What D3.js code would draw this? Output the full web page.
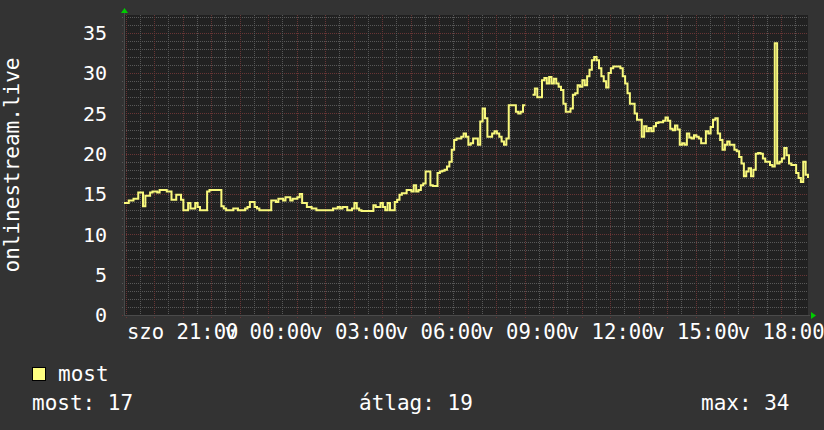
<!DOCTYPE html>
<html>
<head>
<meta charset="utf-8">
<script src="https://cdn.jsdelivr.net/npm/d3@7"></script>
<style>
  body { margin: 0; background: #333333; }
  svg { display: block; }
  text { font-family: "DejaVu Sans Mono", monospace; fill: #ffffff; }
</style>
</head>
<body>
<script>
var margin = {top: 15, right: 16, bottom: 115, left: 124},
    width = 684,
    height = 300;

// 24 hours of 5 minute samples, starting saturday evening
var startTime = new Date(2023, 2, 4, 18, 56, 24);
var endTime = new Date(2023, 2, 5, 18, 56, 24);
var stepMinutes = 5;

// null = missing sample (gap in the line)
var viewers = [
  13.9, 13.9, 14.2, 14.2, 14.4, 14.4, 15.2, 15.2, 13.5, 14.8, 14.8, 15.2,
  15.3, 15.3, 15.2, 15.5, 15.5, 15.5, 15.3, 15.3, 14.3, 14.3, 14.9, 14.9,
  14.3, 13.0, 13.0, 13.9, 13.2, 13.2, 13.9, 13.4, 13.0, 13.0, 13.0, 15.3,
  15.5, 15.5, 15.5, 15.5, 15.5, 13.5, 13.2, 13.0, 13.0, 13.0, 13.2, 13.2,
  13.0, 13.0, 13.0, 13.2, 13.4, 14.0, 14.0, 13.4, 13.2, 13.0, 13.0, 13.0,
  13.0, 13.0, 14.2, 14.2, 14.0, 14.4, 14.4, 14.2, 14.6, 14.6, 14.2, 14.4,
  14.4, 14.6, 15.0, 13.9, 13.9, 13.4, 13.4, 13.2, 13.2, 13.0, 13.0, 13.0,
  13.0, 13.0, 13.0, 13.0, 13.2, 13.2, 13.4, 13.2, 13.4, 13.4, 13.0, 13.0,
  13.2, 13.9, 13.2, 13.0, 12.9, 12.9, 12.9, 12.9, 12.9, 13.6, 13.4, 13.4,
  13.9, 13.4, 13.0, 13.9, 13.0, 13.0, 14.0, 14.3, 14.9, 15.1, 15.1, 15.5,
  15.5, 15.3, 16.1, 15.3, 15.5, 16.1, 16.3, 17.8, 17.8, 16.1, 16.0, 16.0,
  17.6, 17.8, 17.9, 18.0, 18.4, 19.0, 20.5, 21.7, 21.9, 21.9, 22.1, 22.5,
  22.1, 21.1, 21.3, 21.9, 21.9, 21.1, 24.0, 25.6, 24.4, 22.1, 22.1, 22.5,
  22.8, 22.5, 22.1, 21.5, 21.1, 21.9, 26.0, 26.0, 26.0, 25.2, 25.0, 25.2,
  26.0, 26.0, null, null, 27.3, 28.1, 27.0, 27.0, 29.1, 29.4, 28.7, 29.5,
  28.7, 29.3, 28.7, 28.3, 27.9, 26.2, 25.2, 25.2, 25.6, 27.3, 27.5, 28.5,
  28.3, 29.1, 28.5, 29.6, 30.4, 31.6, 32.0, 31.6, 30.6, 29.6, 29.0, 28.2,
  30.0, 30.6, 30.8, 30.8, 30.8, 30.6, 29.6, 28.7, 27.5, 26.2, 26.2, 25.0,
  24.2, 24.2, 22.1, 23.4, 22.8, 23.2, 22.8, 23.4, 23.8, 23.9, 23.9, 24.1,
  24.5, 24.1, 23.1, 22.9, 23.5, 23.0, 21.1, 21.3, 21.1, 22.5, 22.0, 21.9,
  22.3, 22.1, 21.9, 21.3, 21.3, 22.8, 22.5, 23.3, 24.2, 24.4, 22.5, 21.7,
  20.5, 21.1, 21.5, 21.1, 21.1, 20.5, 20.3, 19.6, 18.8, 17.2, 17.8, 18.2,
  17.2, 18.0, 20.0, 20.1, 20.0, 19.4, 19.0, 19.0, 18.6, 18.4, 33.7, 18.8,
  19.0, 19.4, 20.7, 19.8, 18.8, 18.6, 18.6, 17.6, 17.0, 16.5, 19.0, 17.4,
  17.0
];

var yMax = 37.2;
var yTicks = [0, 5, 10, 15, 20, 25, 30, 35];
var axisTitle = "onlinestream.live";
var seriesName = "most";
var statLabels = ["most: 17", "átlag: 19", "max: 34"];

// hungarian short day names, lower case like rrdtool prints them
var huLocale = d3.timeFormatLocale({
  dateTime: "%Y. %B %-e. %X",
  date: "%Y. %m. %d.",
  time: "%H:%M:%S",
  periods: ["de.", "du."],
  days: ["vasárnap", "hétfő", "kedd", "szerda", "csütörtök", "péntek", "szombat"],
  shortDays: ["v", "h", "k", "sze", "cs", "p", "szo"],
  months: ["január", "február", "március", "április", "május", "június", "július", "augusztus", "szeptember", "október", "november", "december"],
  shortMonths: ["jan", "feb", "már", "ápr", "máj", "jún", "júl", "aug", "szept", "okt", "nov", "dec"]
});
var labelFormat = huLocale.format("%a %H:%M");

var data = viewers.map(function(v, i) {
  return {t: d3.timeMinute.offset(startTime, i * stepMinutes), v: v};
});

var svg = d3.select("body")
            .append("svg")
            .attr("width", width + margin.left + margin.right)
            .attr("height", height + margin.top + margin.bottom);

var g = svg.append("g")
           .attr("transform", "translate(" + margin.left + "," + margin.top + ")");

var xScale = d3.scaleTime()
               .domain([startTime, endTime])
               .range([0, width]);

var yScale = d3.scaleLinear()
               .domain([0, yMax])
               .range([height, 0]);

var crisp = function(v) { return Math.round(v) + 0.5; };

var minorColor = "#585858",
    majorColor = "#683535";

// canvas
g.append("rect")
 .attr("width", width)
 .attr("height", height)
 .attr("fill", "#212121");

// horizontal grid: minor every unit, major every 5
var hMinor = d3.range(0, Math.floor(yMax) + 1).filter(function(v) { return v % 5 != 0; });

g.selectAll(".hminor")
 .data(hMinor)
 .enter()
 .append("line")
 .attr("class", "hminor")
 .attr("x1", -2)
 .attr("x2", width)
 .attr("y1", function(d) { return crisp(yScale(d)); })
 .attr("y2", function(d) { return crisp(yScale(d)); })
 .attr("stroke", minorColor)
 .attr("stroke-dasharray", "1,1");

g.selectAll(".hmajor")
 .data(yTicks)
 .enter()
 .append("line")
 .attr("class", "hmajor")
 .attr("x1", -2)
 .attr("x2", width)
 .attr("y1", function(d) { return crisp(yScale(d)); })
 .attr("y2", function(d) { return crisp(yScale(d)); })
 .attr("stroke", majorColor)
 .attr("stroke-dasharray", "1,1");

// vertical grid: minor every half hour, major every hour
var vMajor = xScale.ticks(d3.timeHour.every(1));
var vMinor = xScale.ticks(d3.timeMinute.every(30)).filter(function(d) { return d.getMinutes() != 0; });

g.selectAll(".vminor")
 .data(vMinor)
 .enter()
 .append("line")
 .attr("class", "vminor")
 .attr("x1", function(d) { return crisp(xScale(d)); })
 .attr("x2", function(d) { return crisp(xScale(d)); })
 .attr("y1", 0)
 .attr("y2", height + 2)
 .attr("stroke", minorColor)
 .attr("stroke-dasharray", "1,1");

g.selectAll(".vmajor")
 .data(vMajor)
 .enter()
 .append("line")
 .attr("class", "vmajor")
 .attr("x1", function(d) { return crisp(xScale(d)); })
 .attr("x2", function(d) { return crisp(xScale(d)); })
 .attr("y1", 0)
 .attr("y2", height + 3)
 .attr("stroke", majorColor)
 .attr("stroke-dasharray", "1,1");

// axes
g.append("line")
 .attr("x1", 0).attr("x2", width + 2)
 .attr("y1", height + 0.5).attr("y2", height + 0.5)
 .attr("stroke", "#4a4a4a");

g.append("line")
 .attr("x1", 0.5).attr("x2", 0.5)
 .attr("y1", -3).attr("y2", height)
 .attr("stroke", "#4a4a4a");

// green arrows at the end of the axes
g.append("path")
 .attr("d", "M" + (-3) + "," + (-2) + "L" + 4 + "," + (-2) + "L" + 0.5 + "," + (-7) + "Z")
 .attr("fill", "#00cc00");

g.append("path")
 .attr("d", "M" + (width + 3) + "," + (height - 3) + "L" + (width + 3) + "," + (height + 4) + "L" + (width + 8) + "," + (height + 0.5) + "Z")
 .attr("fill", "#00cc00");

// y labels
g.selectAll(".ylabel")
 .data(yTicks)
 .enter()
 .append("text")
 .attr("class", "ylabel")
 .attr("x", -17)
 .attr("y", function(d) { return yScale(d); })
 .attr("dy", "0.36em")
 .style("font-size", "20px")
 .style("text-anchor", "end")
 .text(function(d) { return d; });

// x labels, every 3 hours (they overlap like in rrdtool)
g.selectAll(".xlabel")
 .data(xScale.ticks(d3.timeHour.every(3)))
 .enter()
 .append("text")
 .attr("class", "xlabel")
 .attr("x", function(d) { return xScale(d); })
 .attr("y", height + 24)
 .style("font-size", "20.6px")
 .style("text-anchor", "middle")
 .text(function(d) { return labelFormat(d); });

// the series
var line = d3.line()
             .defined(function(d) { return d.v != null; })
             .x(function(d) { return xScale(d.t); })
             .y(function(d) { return yScale(d.v); })
             .curve(d3.curveStepAfter);

g.append("path")
 .datum(data)
 .attr("d", line)
 .attr("fill", "none")
 .attr("stroke", "#f8f87c")
 .attr("stroke-width", 2);

// vertical axis title
svg.append("text")
   .attr("transform", "translate(19," + (margin.top + height / 2) + ") rotate(-90)")
   .style("font-size", "21px")
   .style("text-anchor", "middle")
   .text(axisTitle);

// legend
svg.append("rect")
   .attr("x", 32.5)
   .attr("y", 367.5)
   .attr("width", 13)
   .attr("height", 13)
   .attr("fill", "#ffff80")
   .attr("stroke", "#000000");

svg.append("text")
   .attr("x", 58)
   .attr("y", 381)
   .style("font-size", "21px")
   .text(seriesName);

var statX = [32, 359, 701];
svg.selectAll(".stat")
   .data(statLabels)
   .enter()
   .append("text")
   .attr("class", "stat")
   .attr("x", function(d, i) { return statX[i]; })
   .attr("y", 410)
   .style("font-size", "21px")
   .text(function(d) { return d; });
</script>
</body>
</html>
